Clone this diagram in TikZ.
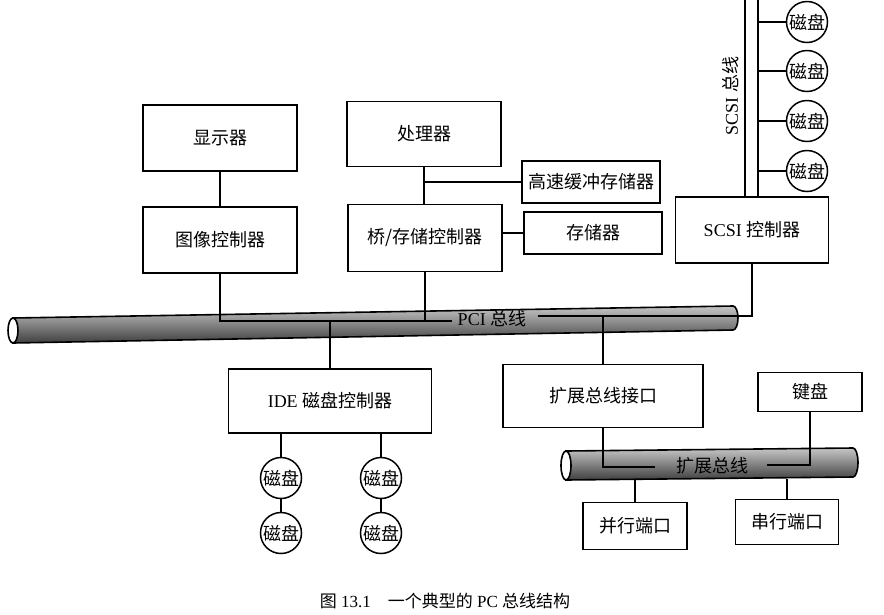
\documentclass[tikz,border=0pt]{standalone}
\usepackage{fontspec}
\setmainfont{Liberation Serif}
\newfontfamily\cjk{Noto Sans CJK SC}
\newcommand\zh[1]{{\cjk #1}}
\usetikzlibrary{
  calc,
  positioning,
}

\begin{document}
\begin{tikzpicture}[x=1pt,y=-1pt,
    font=\fontsize{18}{20}\selectfont,
    box/.style={rectangle,draw,line width=1.7pt,inner sep=0pt},
    disk/.style={circle,draw,line width=1.5pt,minimum size=41,inner sep=0pt},
    wire/.style={line width=1.3pt},
    tube/.style={draw,line width=1.6pt,top color=gray!45,bottom color=black!75},
  ]
  \useasboundingbox (0,0) rectangle (884,614);

  % bus tubes
  \draw[tube] (13,318) -- (733,306) arc[start angle=-90,end angle=90,x radius=5,y radius=12] -- (13,343) -- cycle;
  \draw[line width=1.6pt,fill=white] (13,330.5) ellipse [x radius=5,y radius=12.5];
  \draw[tube] (566,451) -- (853,448) arc[start angle=-90,end angle=90,x radius=5,y radius=14.5] -- (566,480) -- cycle;
  \draw[line width=1.6pt,fill=white] (566,465.5) ellipse [x radius=5,y radius=14.5];

  % boxes
  \node[box,minimum width=154,minimum height=66] (disp) at (220,138) {\zh{显示器}};
  \node[box,minimum width=154,minimum height=66] (imgctl) at (220,240) {\zh{图像控制器}};
  \node[box,minimum width=154,minimum height=65] (cpu) at (424,134) {\zh{处理器}};
  \node[box,minimum width=154,minimum height=67] (bridge) at (425,238) {\zh{桥/存储控制器}};
  \node[box,minimum width=138,minimum height=42] (cache) at (591,182) {\zh{高速缓冲存储器}};
  \node[box,minimum width=138,minimum height=42] (mem) at (593,233) {\zh{存储器}};
  \node[box,minimum width=153,minimum height=66] (scsictl) at (752,230) {SCSI \zh{控制器}};
  \node[box,minimum width=203,minimum height=64] (ide) at (330,401) {IDE \zh{磁盘控制器}};
  \node[box,minimum width=200,minimum height=63] (extif) at (603,396) {\zh{扩展总线接口}};
  \node[box,minimum width=104,minimum height=39] (kbd) at (810,392) {\zh{键盘}};
  \node[box,minimum width=104,minimum height=47] (par) at (635,526) {\zh{并行端口}};
  \node[box,minimum width=103,minimum height=45] (ser) at (787,522) {\zh{串行端口}};

  % disks
  \node[disk] (d1) at (281,478) {\zh{磁盘}};
  \node[disk] (d2) at (281,533) {\zh{磁盘}};
  \node[disk] (d3) at (381,478) {\zh{磁盘}};
  \node[disk] (d4) at (381,533) {\zh{磁盘}};

  % SCSI bus
  \coordinate (sbl) at (745,0);
  \coordinate (sbr) at (758,0);
  \draw[wire] (sbl) -- (sbl |- scsictl.north);
  \draw[wire] (sbr) -- (sbr |- scsictl.north);
  \foreach \i/\y in {1/22,2/71,3/121,4/171} {
    \node[disk] (sd\i) at (807,\y) {\zh{磁盘}};
    \draw[wire] (sd\i.west) -- (sd\i.west -| sbr);
  }
  \node[rotate=90] (scsilbl) at (731,96) {SCSI \zh{总线}};

  % top connections
  \draw[wire] (disp) -- (imgctl);
  \draw[wire] (cpu.south) -- (cpu.south |- bridge.north);
  \draw[wire] (cache.west) -- (cache.west -| cpu.south);
  \draw[wire] (mem.west) -- (mem.west -| bridge.east);

  % PCI bus
  \coordinate (pcil) at (452,321);
  \coordinate (pcim) at (538,316);
  \coordinate (pcir) at (738,316);
  \node (pcilbl) at (492,319) {PCI \zh{总线}};
  \draw[wire] (imgctl.south) |- (pcil);
  \draw[wire] (bridge.south) -- (bridge.south |- pcil);
  \draw[wire] (pcim) -- (pcir);
  \draw[wire] (scsictl.south) |- (pcir);
  \draw[wire] (ide.north) -- (ide.north |- pcil);
  \draw[wire] (extif.north) -- (extif.north |- pcir);

  % IDE disks
  \draw[wire] (d1.north) -- (d1.north |- ide.south);
  \draw[wire] (d3.north) -- (d3.north |- ide.south);
  \draw[wire] (d1) -- (d2);
  \draw[wire] (d3) -- (d4);

  % expansion bus
  \coordinate (xbl) at (655,467);
  \coordinate (xbr) at (767,465);
  \coordinate (xbot) at (700,479);
  \node (xlbl) at (712,466) {\zh{扩展总线}};
  \draw[wire] (extif.south) |- (xbl);
  \draw[wire] (kbd.south) |- (xbr);
  \draw[wire] (par.north) -- (par.north |- xbot);
  \draw[wire] (ser.north) -- (ser.north |- xbot);

  \node[font=\fontsize{17}{20}\selectfont] (caption) at (445,601) {\zh{图} 13.1\quad\zh{一个典型的} PC \zh{总线结构}};
\end{tikzpicture}
\end{document}
